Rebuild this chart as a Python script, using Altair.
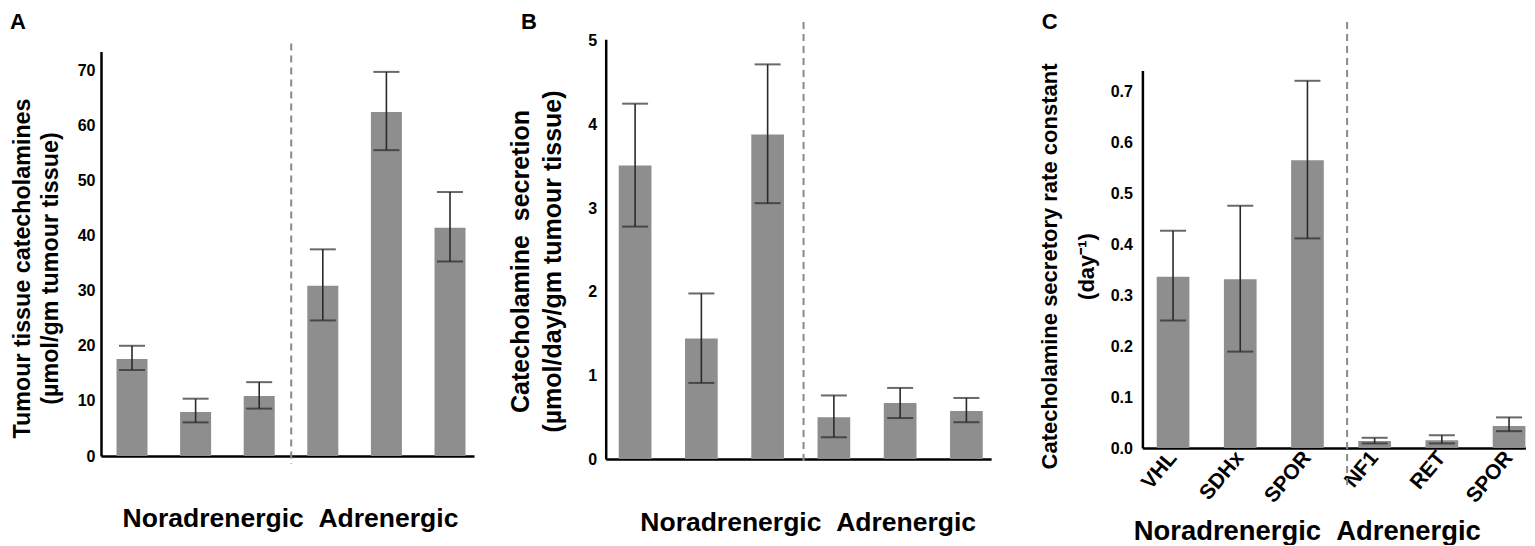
import altair as alt
import pandas as pd

# ---------------- data ----------------
genotypes = ["VHL", "SDHx", "SPOR", "NF1", "RET", "SPOR"]
bar_ids = [f"{i}:{g}" for i, g in enumerate(genotypes)]

# Panel A: tumour tissue catecholamines (umol/gm)
A_mean = [17.6, 8.0, 10.9, 30.9, 62.4, 41.4]
A_lo = [15.6, 6.1, 8.6, 24.6, 55.5, 35.3]
A_hi = [20.0, 10.4, 13.4, 37.5, 69.7, 47.9]
A_ticks = [0, 10, 20, 30, 40, 50, 60, 70]

# Panel B: catecholamine secretion (umol/day/gm)
B_mean = [3.51, 1.44, 3.88, 0.50, 0.67, 0.575]
B_lo = [2.78, 0.91, 3.06, 0.26, 0.49, 0.44]
B_hi = [4.25, 1.98, 4.72, 0.76, 0.85, 0.73]
B_ticks = [0, 1, 2, 3, 4, 5]

# Panel C: secretory rate constant (day^-1)
C_mean = [0.336, 0.331, 0.564, 0.0136, 0.015, 0.043]
C_lo = [0.250, 0.189, 0.411, 0.009, 0.009, 0.033]
C_hi = [0.426, 0.475, 0.720, 0.020, 0.025, 0.060]
C_ticks = [0.0, 0.1, 0.2, 0.3, 0.4, 0.5, 0.6, 0.7]

panel_letters = ["A", "B", "C"]
group_title = "Noradrenergic\u00a0\u00a0Adrenergic"

BAR = "#8e8e8e"
ERR = "#2a2a2a"
DASH = "#8a8a8a"
FONT = "Liberation Sans, Arial, sans-serif"


def panel(letter, mean, lo, hi, ticks, ymax, ytitle, *, width, height, xrange,
          pin, pout, align, yrange_top, divider, div_offset, letter_dx,
          ytitle_size, ytitle_x, ytitle_y, ytitle_lh,
          label_pad, xtitle_size, xtitle_x, xtitle_y, show_labels, yfmt):
    df = pd.DataFrame({"bar": bar_ids, "mean": mean, "lo": lo, "hi": hi})
    xs = alt.Scale(domain=bar_ids, range=[0, xrange], paddingInner=pin,
                   paddingOuter=pout, align=align)
    ys = alt.Scale(domain=[0, ymax], range=[height, yrange_top], nice=False, zero=False)

    xaxis_kw = dict(
        title=group_title, titleFont=FONT, titleFontSize=xtitle_size,
        titleFontWeight="bold", titleColor="black", titleX=xtitle_x, titleY=xtitle_y,
        titleAlign="center", titleBaseline="alphabetic", ticks=False,
        domainColor="black", domainWidth=2.5,
    )
    if show_labels:
        xaxis_kw.update(labels=True, labelExpr="split(datum.label, ':')[1]",
                        labelAngle=310, labelAlign="right", labelBaseline="middle",
                        labelFont=FONT, labelFontSize=21, labelFontWeight="bold",
                        labelColor="black", labelPadding=6)
    else:
        xaxis_kw.update(labels=False)
    xaxis = alt.Axis(**xaxis_kw)

    yaxis = alt.Axis(
        values=ticks, format=yfmt, title=ytitle, titleFont=FONT,
        titleFontSize=ytitle_size, titleFontWeight="bold", titleColor="black",
        titleAngle=270, titleAlign="center", titleBaseline="alphabetic",
        titleX=ytitle_x, titleY=ytitle_y, titleLineHeight=ytitle_lh,
        labelFont=FONT, labelFontSize=16, labelFontWeight="bold",
        labelColor="black", labelPadding=label_pad, ticks=False,
        domainColor="black", domainWidth=2.5, grid=False,
    )

    base = alt.Chart(df)
    bars = base.mark_bar(color=BAR).encode(
        x=alt.X("bar:N", scale=xs, sort=None, axis=xaxis),
        y=alt.Y("mean:Q", scale=ys, axis=yaxis),
    )
    err = base.mark_rule(color=ERR, strokeWidth=1.6).encode(
        x=alt.X("bar:N", sort=None), y="lo:Q", y2="hi:Q")
    cap_lo = base.mark_tick(color=ERR, size=26, thickness=2).encode(
        x=alt.X("bar:N", sort=None), y="lo:Q")
    cap_hi = base.mark_tick(color=ERR, size=26, thickness=2).encode(
        x=alt.X("bar:N", sort=None), y="hi:Q")

    ddf = pd.DataFrame({"bar": [bar_ids[2]], "top": [divider[0]], "bot": [divider[1]]})
    div = alt.Chart(ddf).mark_rule(color=DASH, strokeWidth=2, strokeDash=[7, 5],
                                   xOffset=div_offset).encode(
        x=alt.X("bar:N", bandPosition=1), y="top:Q", y2="bot:Q")

    lab = alt.Chart(pd.DataFrame({"t": [letter]})).mark_text(
        align="left", baseline="alphabetic", fontSize=22, fontWeight="bold",
        font=FONT, color="black").encode(
        text="t:N", x=alt.value(letter_dx), y=alt.value(2.6))

    return alt.layer(bars, err, cap_lo, cap_hi, div, lab).properties(
        width=width, height=height)


pA = panel(panel_letters[0], A_mean, A_lo, A_hi, A_ticks, 73.4,
           ["Tumour tissue catecholamines", "(µmol/gm tumour tissue)"],
           width=373, height=430, xrange=373, pin=0.5126, pout=0.1887, align=0.646,
           yrange_top=25.5, divider=(74.85, -1.45), div_offset=16.5, letter_dx=-91,
           ytitle_size=23.3, ytitle_x=-72, ytitle_y=242, ytitle_lh=28.4,
           label_pad=6, xtitle_size=26.5, xtitle_x=189, xtitle_y=70,
           show_labels=False, yfmt="d")

pB = panel(panel_letters[1], B_mean, B_lo, B_hi, B_ticks, 5.02,
           ["Catecholamine\u00a0\u00a0secretion", "(µmol/day/gm tumour tissue)"],
           width=398, height=433, xrange=385.4, pin=0.5065, pout=0.1615, align=0.61,
           yrange_top=13.3, divider=(5.228, -0.081), div_offset=19.6, letter_dx=-84.6,
           ytitle_size=25, ytitle_x=-77.3, ytitle_y=235, ytitle_lh=31.7,
           label_pad=9, xtitle_size=26.5, xtitle_x=202, xtitle_y=71,
           show_labels=False, yfmt="d")

pC = panel(panel_letters[2], C_mean, C_lo, C_hi, C_ticks, 0.74,
           ["Catecholamine secretory rate constant", "(day\u207b\u00b9)"],
           width=383, height=422, xrange=383, pin=0.5134, pout=0.1064, align=1.0,
           yrange_top=44.6, divider=(0.8355, -0.0725), div_offset=23.3, letter_dx=-100.6,
           ytitle_size=22, ytitle_x=-86.3, ytitle_y=240, ytitle_lh=37,
           label_pad=10, xtitle_size=27.4, xtitle_x=164.4, xtitle_y=91,
           show_labels=True, yfmt=".1f")

chart = alt.hconcat(pA, pB, pC, spacing=33.7).properties(
    padding={"left": 1, "top": 2, "right": 0, "bottom": 0}
).configure_view(stroke=None).configure_axis(grid=False)

chart.save("out.html", embed_options={"renderer": "svg", "actions": False})
